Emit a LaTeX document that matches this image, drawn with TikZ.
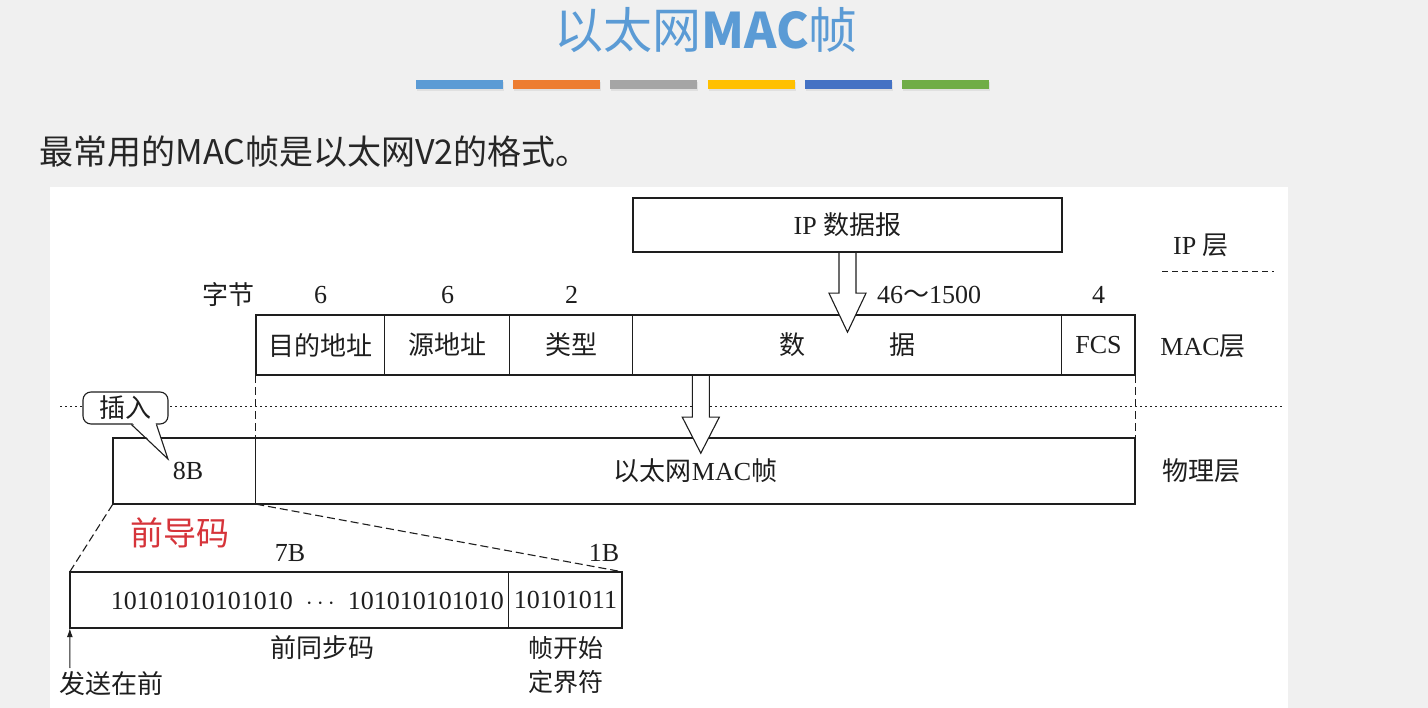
\documentclass[tikz,border=0pt]{standalone}
\usepackage{fontspec}
\setmainfont{Liberation Serif}
\newfontfamily\cjk{Noto Sans CJK SC}
\usetikzlibrary{calc,arrows.meta}
\definecolor{pagebg}{RGB}{240,240,240}
\definecolor{titleblue}{RGB}{91,155,213}
\definecolor{barA}{RGB}{91,155,213}
\definecolor{barB}{RGB}{237,125,49}
\definecolor{barC}{RGB}{165,165,165}
\definecolor{barD}{RGB}{255,192,0}
\definecolor{barE}{RGB}{68,114,196}
\definecolor{barF}{RGB}{112,173,71}
\definecolor{leadred}{RGB}{214,52,58}
\definecolor{ink}{RGB}{30,30,30}
\def\hollowarrow(#1)(#2:#3){\draw[hollow] ($(#1)+(-8.5,0)$) -- ++(0,#2) -- ++(-10,0) -- ($(#1)+(0,{#2+#3})$) -- ($(#1)+(18.5,#2)$) -- ++(-10,0) -- ($(#1)+(8.5,0)$);}
\tikzset{
	cell/.style={inner sep=0pt, text=ink},
	frame/.style={line width=2pt, ink},
	sep/.style={line width=0.9pt, ink},
	hollow/.style={line width=1.1pt, ink, fill=white},
	txt/.style={inner sep=0pt, text=ink}
}

\begin{document}
\begin{tikzpicture}[x=1pt, y=-1pt, font=\fontsize{26}{30}\selectfont]
			%%%%% START %%%%%
			\useasboundingbox (0,0) rectangle (1428,708);
			\fill[pagebg] (0,0) rectangle (1428,708);
			
			\node[text=titleblue, font=\fontsize{49}{52}\selectfont\cjk] (title) at (706,30) {以太网{\bfseries MAC}帧};
			\foreach \c [count=\i] in {barA,barB,barC,barD,barE,barF}{
				\fill[black!12] ({416+97.2*(\i-1)+1}, 82) rectangle ++(87,9);
				\fill[\c] ({416+97.2*(\i-1)}, 80) rectangle ++(87,9);
			}
			\node[anchor=west, text=black!85, font=\fontsize{34}{38}\selectfont\cjk] (lead) at (36,152) {最常用的MAC帧是以太网V2的格式。};
			
			\fill[white] (50,187) rectangle (1288,708);
			
			% IP layer
			\node[cell, minimum width=429pt, minimum height=54pt] (ipbox) at (847.5,225) {IP {\cjk 数据报}};
			\node[txt] (iplayer) at (1201,245) {IP {\cjk 层}};
			\draw[ink, line width=0.9pt, dash pattern=on 6pt off 4pt] (1162,271) -- (1274,271);
			
			% MAC layer
			\node[txt] (bytes) at (228,295) {\cjk 字节};
			\node[cell, minimum width=129pt, minimum height=60pt] (dst) at (320.5,345) {\cjk 目的地址};
			\node[cell, minimum width=125pt, minimum height=60pt] (src) at (447.5,345) {\cjk 源地址};
			\node[cell, minimum width=123pt, minimum height=60pt] (type) at (571.5,345) {\cjk 类型};
			\node[cell, minimum width=429pt, minimum height=60pt] (data) at (847.5,345) {\cjk 数\hspace{84pt}据};
			\node[cell, minimum width=73pt, minimum height=60pt] (fcs) at (1098.5,345) {FCS};
			\node[txt] at (dst |- bytes) {6};
			\node[txt] at (src |- bytes) {6};
			\node[txt] at (type |- bytes) {2};
			\node[txt] at (929,295) {46{\cjk ～}1500};
			\node[txt] at (fcs |- bytes) {4};
			\node[txt] (maclayer) at (1203,346) {MAC{\cjk 层}};
			
			% physical layer
			\node[cell, minimum width=143pt, minimum height=66pt] (pre) at (184.5,471) {\hspace{7pt}8B};
			\node[cell, minimum width=879pt, minimum height=66pt] (mframe) at (695.5,471) {{\cjk 以太网}MAC{\cjk 帧}};
			\node[txt] (phylayer) at (1201,471) {\cjk 物理层};
			\node[txt, text=leadred, font=\fontsize{33}{36}\selectfont\cjk] (leadcode) at (180,533) {前导码};
			
			\draw[ink, line width=1pt, dash pattern=on 1.5pt off 3.5pt] (60,407) -- (1282,407);
			\draw[ink, line width=0.9pt, dash pattern=on 8pt off 4pt] (dst.south west) -- (mframe.north west);
			\draw[ink, line width=0.9pt, dash pattern=on 8pt off 4pt] (fcs.south east) -- (mframe.north east);
			
			\draw[frame] (pre.north west) rectangle (mframe.south east);
			\draw[sep] (mframe.north west) -- (mframe.south west);
			\hollowarrow($(data.south west)+(68,0)$)(42:36)
			
			\draw[frame] (dst.north west) rectangle (fcs.south east);
			\foreach \n in {src,type,data,fcs}
				\draw[sep] (\n.north west) -- (\n.south west);
			\hollowarrow(ipbox.south)(41:39)
			\draw[frame] (ipbox.north west) rectangle (ipbox.south east);
			
			% callout
			\node[draw=ink, line width=1.1pt, fill=white, rounded corners=8pt, minimum width=85pt, minimum height=32pt, inner sep=0pt, text=ink] (insert) at (125.5,408) {\cjk 插入};
			\coordinate (instip) at (168,459);
			\fill[white] ($(insert.south west)+(50,-1.5)$) -- ($(insert.south west)+(73,-1.5)$) -- (instip) -- cycle;
			\draw[ink, line width=1.1pt] ($(insert.south west)+(49,0)$) -- (instip) -- ($(insert.south west)+(74,0)$);
			
			% preamble
			\node[cell, minimum width=439pt, minimum height=56pt] (sync) at (289.5,600) {};
			\node[cell, minimum width=113pt, minimum height=56pt] (sfd) at (565.5,600) {10101011};
			\node[txt, anchor=east] (pattern) at (504,601) {10101010101010\hspace{13pt}$\cdots$\hspace{13pt}101010101010};
			\draw[frame] (sync.north west) rectangle (sfd.south east);
			\draw[sep] (sfd.north west) -- (sfd.south west);
			\draw[ink, line width=1.1pt, dash pattern=on 8pt off 4pt] (pre.south west) -- (sync.north west);
			\draw[ink, line width=1.1pt, dash pattern=on 8pt off 4pt] (pre.south east) -- (sfd.north east);
			\node[txt] at (290,553) {7B};
			\node[txt] at (604,553) {1B};
			\node[txt] (syncname) at (322,648) {\cjk 前同步码};
			\node[txt, align=center, font=\fontsize{25}{34}\selectfont\cjk] (sfdname) at (566,665) {帧开始\\定界符};
			\coordinate (send) at (70,668);
			\draw[ink, line width=1pt, -{Latex[length=9pt,width=6pt]}] (send) -- (sync.south west);
			\node[txt] (sendfirst) at (111,684) {\cjk 发送在前};
			
			%%%%% END %%%%%
		\end{tikzpicture}
\end{document}
